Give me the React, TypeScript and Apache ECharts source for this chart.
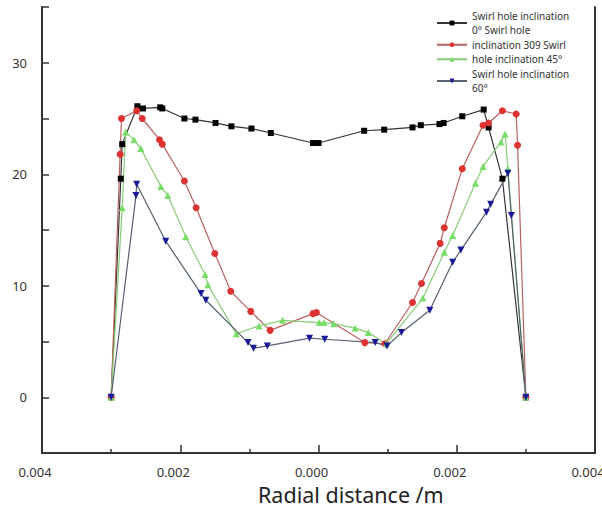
import React, { useEffect, useRef } from "react";
import * as echarts from "echarts";

const seriesNames = [
  "Swirl hole inclination\n0° Swirl hole",
  "inclination 309 Swirl",
  "hole inclination 45°",
  "Swirl hole inclination\n60°",
];

const blackX = [-0.003, -0.00286, -0.00284, -0.00262, -0.00254, -0.00229, -0.00226, -0.00194, -0.00178, -0.00149, -0.00126, -0.00097, -0.00069, -0.00008, 0.0, 0.00066, 0.00095, 0.00136, 0.00148, 0.00175, 0.00181, 0.00208, 0.00239, 0.00246, 0.00266, 0.003];
const blackY = [0, 19.6, 22.7, 26.1, 25.9, 26.0, 25.9, 25.0, 24.9, 24.6, 24.3, 24.1, 23.7, 22.8, 22.8, 23.9, 24.0, 24.2, 24.4, 24.5, 24.6, 25.2, 25.8, 24.2, 19.6, 0];

const redX = [-0.003, -0.00287, -0.00285, -0.00263, -0.00255, -0.0023, -0.00226, -0.00194, -0.00177, -0.0015, -0.00127, -0.00098, -0.0007, -0.00008, -0.00003, 0.00067, 0.00096, 0.00136, 0.00149, 0.00176, 0.00182, 0.00208, 0.00238, 0.00246, 0.00266, 0.00286, 0.00288, 0.003];
const redY = [0, 21.8, 25.0, 25.7, 25.0, 23.1, 22.7, 19.4, 17.0, 12.9, 9.5, 7.7, 6.0, 7.5, 7.6, 4.9, 4.8, 8.5, 10.2, 13.8, 15.2, 20.5, 24.4, 24.6, 25.7, 25.4, 22.6, 0];

const greenX = [-0.003, -0.00284, -0.00279, -0.00267, -0.00257, -0.00228, -0.00218, -0.00192, -0.00164, -0.0016, -0.00119, -0.00086, -0.00052, 0.00001, 0.00008, 0.00022, 0.00053, 0.00072, 0.00098, 0.00151, 0.00182, 0.00194, 0.00227, 0.00238, 0.00264, 0.0027, 0.00274, 0.003];
const greenY = [0, 17.0, 23.8, 23.1, 22.3, 18.9, 18.1, 14.4, 11.0, 10.1, 5.7, 6.4, 6.9, 6.7, 6.7, 6.6, 6.2, 5.8, 4.8, 8.9, 13.0, 14.5, 19.2, 20.7, 22.9, 23.6, 20.5, 0];

const blueX = [-0.003, -0.00264, -0.00263, -0.00221, -0.0017, -0.00163, -0.00102, -0.00094, -0.00074, -0.00013, 0.00009, 0.00082, 0.00099, 0.0012, 0.00161, 0.00194, 0.00206, 0.00243, 0.00249, 0.00274, 0.00279, 0.003];
const blueY = [0, 18.1, 19.1, 14.0, 9.3, 8.7, 4.9, 4.4, 4.6, 5.3, 5.2, 4.9, 4.6, 5.8, 7.8, 12.1, 13.2, 16.6, 17.3, 20.1, 16.3, 0];

const xTitle = "Radial distance /m";

const zip = (xs: number[], ys: number[]) => xs.map((x, i) => [x, ys[i]]);

export default function App() {
  const ref = useRef<HTMLDivElement>(null);
  useEffect(() => {
    if (!ref.current) return;
    const chart = echarts.init(ref.current, null, { renderer: "svg" });
    const font = "Noto Sans";
    const axisColor = "#333";
    const mk = (
      name: string,
      xs: number[],
      ys: number[],
      symbol: string,
      size: number,
      itemColor: string,
      lineColor: string,
      rotate = 0
    ) => ({
      type: "line",
      name,
      data: zip(xs, ys),
      symbol,
      symbolSize: size,
      symbolRotate: rotate,
      itemStyle: { color: itemColor },
      lineStyle: { color: lineColor, width: 1.2 },
      emphasis: { disabled: true },
    });
    chart.setOption({
      animation: false,
      backgroundColor: "#fff",
      grid: { left: 42, right: 7, top: 7, bottom: 64, outerBoundsMode: "none", containLabel: false },
      legend: {
        orient: "vertical",
        left: 436,
        top: 8.5,
        padding: 0,
        itemGap: 0,
        itemWidth: 30,
        itemHeight: 6,
        textStyle: { fontSize: 10, lineHeight: 14.5, color: "#333", fontFamily: font },
      },
      xAxis: {
        type: "value",
        min: -0.004,
        max: 0.004,
        interval: 0.002,
        axisLine: { show: true, onZero: false, lineStyle: { color: axisColor, width: 2 } },
        axisTick: { show: true, inside: true, length: 8, lineStyle: { color: axisColor, width: 1.5 } },
        minorTick: { show: true, splitNumber: 2, length: 4, lineStyle: { color: axisColor, width: 1.5 } },
        splitLine: { show: false },
        axisLabel: {
          margin: 12,
          fontSize: 13,
          color: "#333",
          fontFamily: font,
          padding: [0, 14, 0, 0],
          formatter: (v: number) => Math.abs(v).toFixed(3),
        },
      },
      yAxis: [
        {
          type: "value",
          min: -5,
          max: 35,
          interval: 5,
          axisLine: { show: true, onZero: false, lineStyle: { color: axisColor, width: 2 } },
          axisTick: { show: true, inside: true, length: 7, lineStyle: { color: axisColor, width: 1.5 } },
          splitLine: { show: false },
          axisLabel: {
            margin: 15,
            fontSize: 13,
            color: "#333",
            fontFamily: font,
            formatter: (v: number) => (v >= 0 && v % 10 === 0 ? String(v) : ""),
          },
        },
        {
          type: "value",
          position: "right",
          min: -5,
          max: 35,
          interval: 5,
          axisLine: { show: true, onZero: false, lineStyle: { color: axisColor, width: 2 } },
          axisTick: { show: false },
          axisLabel: { show: false },
          splitLine: { show: false },
        },
      ],
      graphic: [
        {
          type: "text",
          left: 258,
          top: 483,
          style: { text: xTitle, fontSize: 21.5, fill: "#222", fontFamily: font },
        },
      ],
      series: [
        mk(seriesNames[0], blackX, blackY, "rect", 6, "#000", "#333"),
        mk(seriesNames[1], redX, redY, "circle", 7, "#dd3333", "#b86060"),
        mk(seriesNames[2], greenX, greenY, "triangle", 7, "#77dd66", "#88cc77"),
        mk(seriesNames[3], blueX, blueY, "triangle", 7, "#1a1a99", "#556070", 180),
      ],
    });
    return () => chart.dispose();
  }, []);
  return (
    <div
      ref={ref}
      style={{ position: "fixed", left: 0, top: 0, width: 602, height: 517 }}
    />
  );
}
